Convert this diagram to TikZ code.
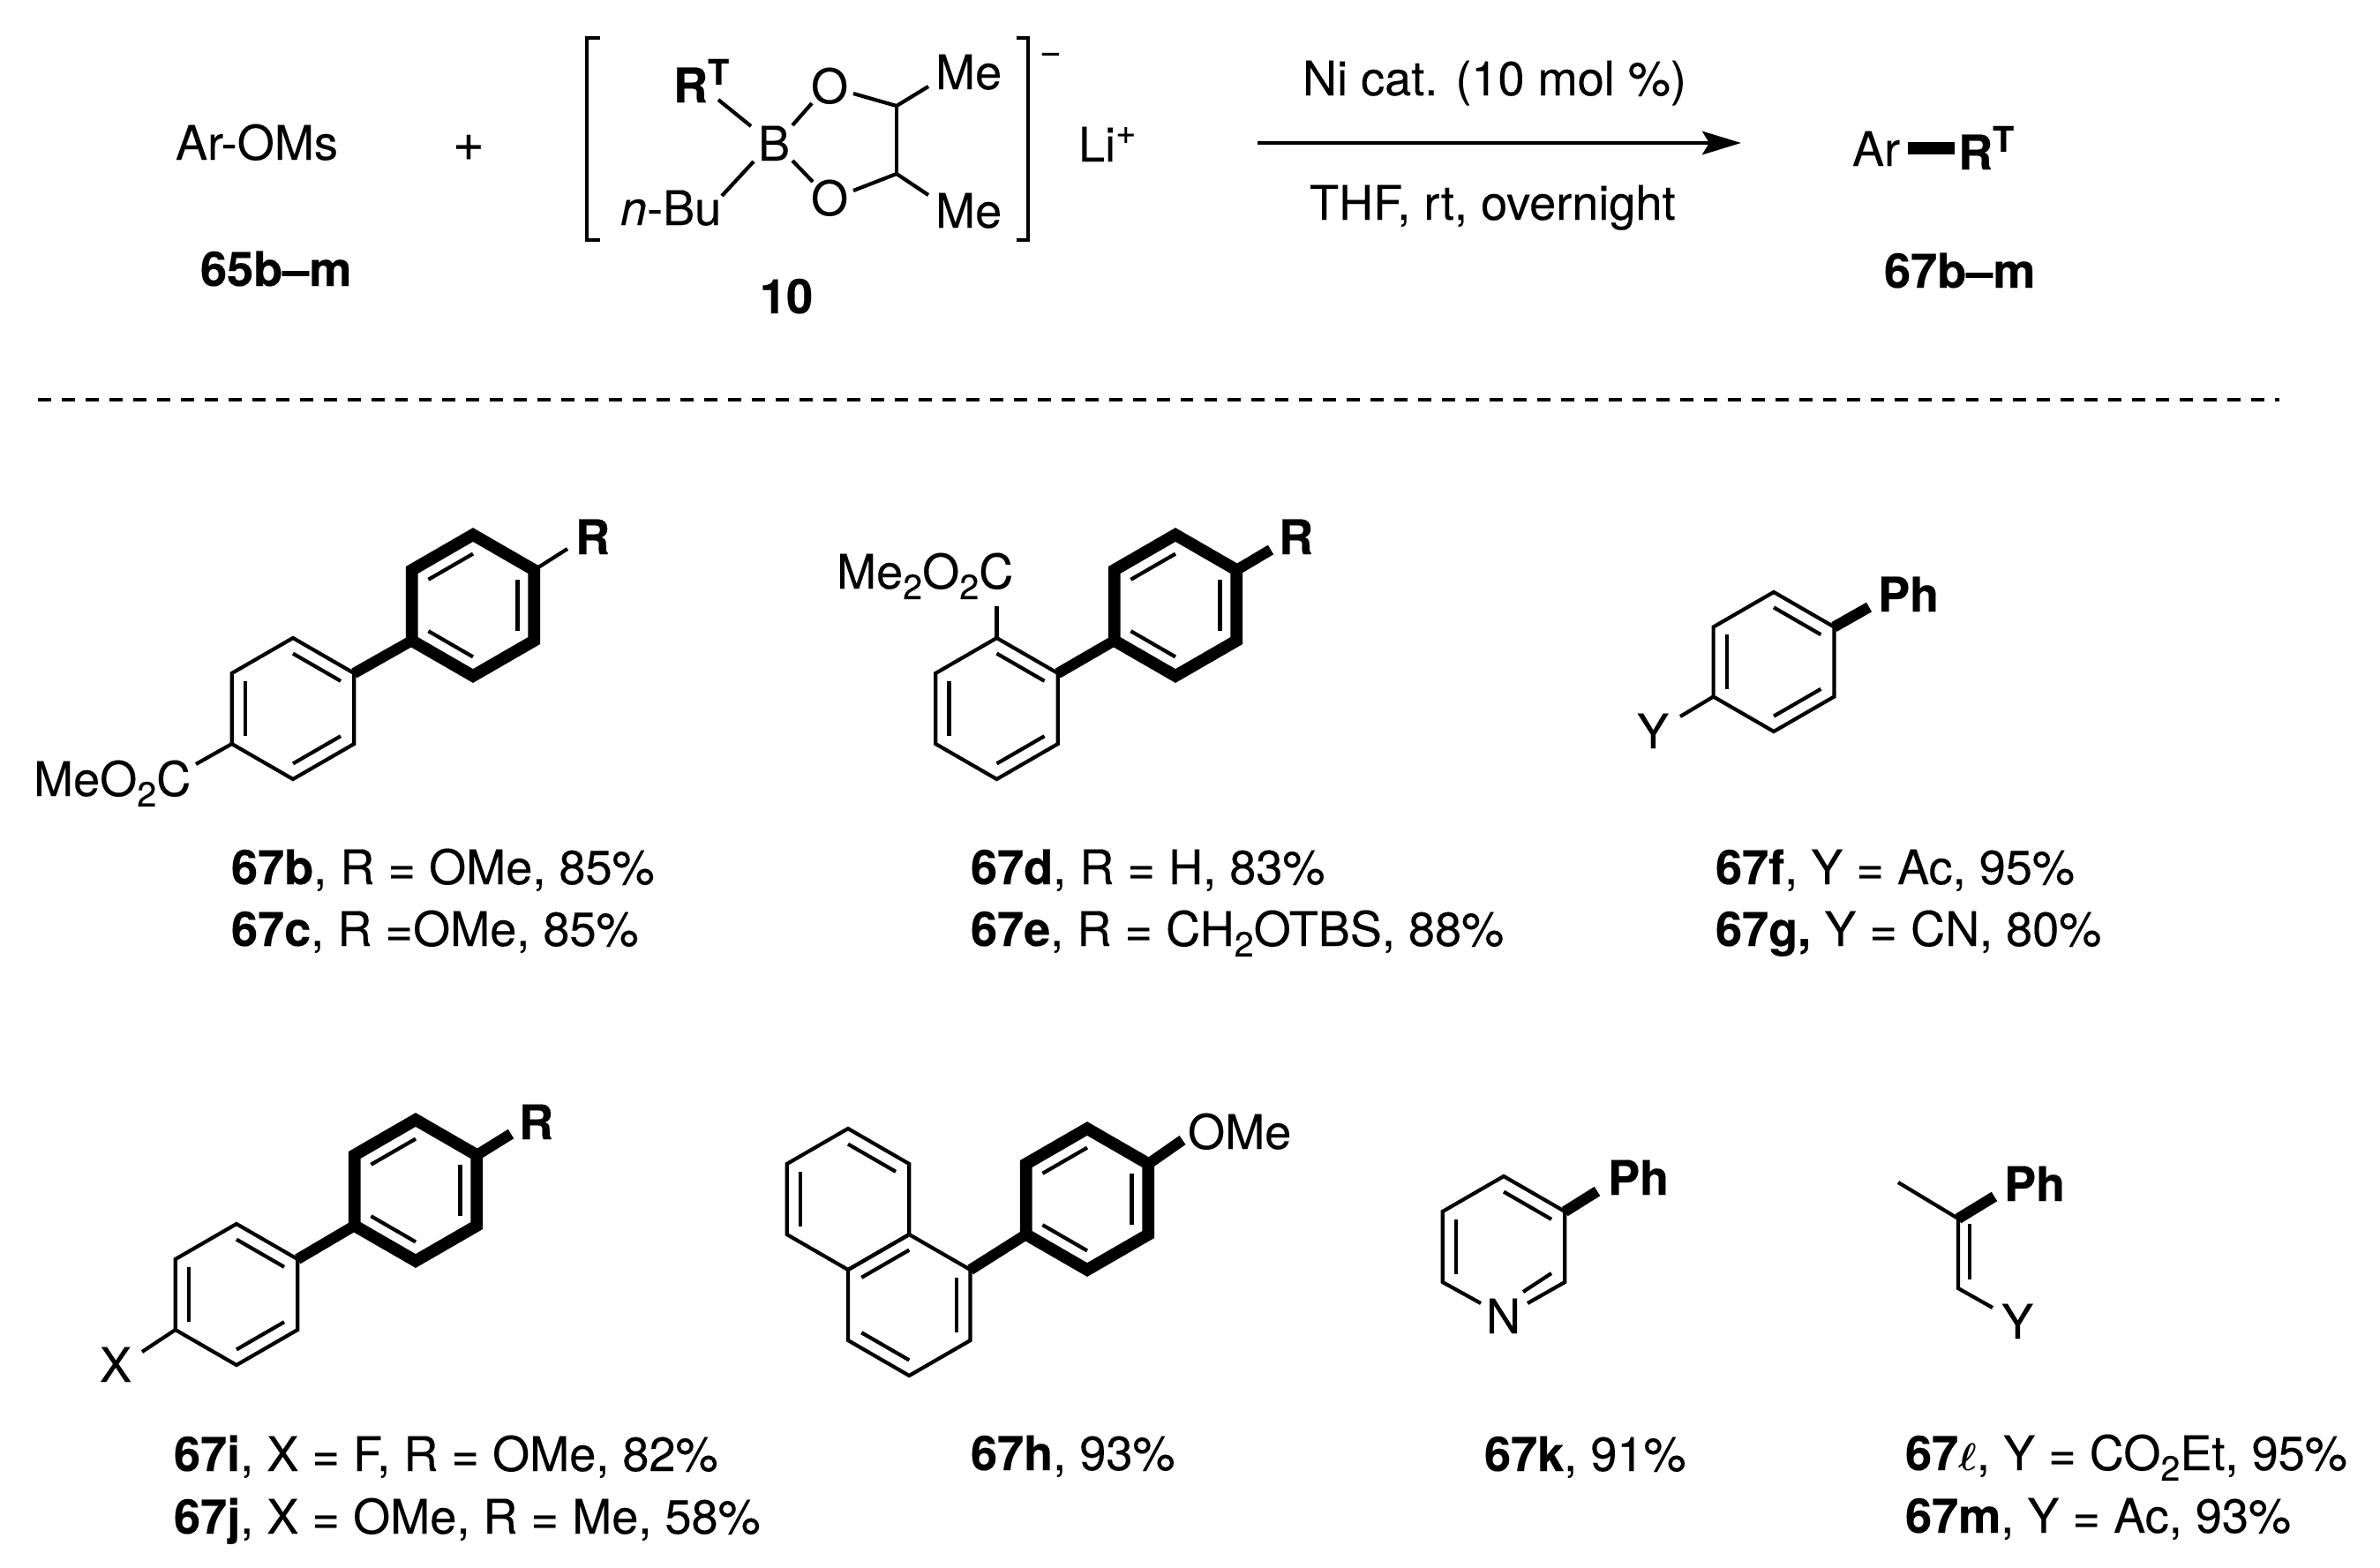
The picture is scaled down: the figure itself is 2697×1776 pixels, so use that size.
\documentclass[tikz,border=0pt]{standalone}
\usepackage{fontspec}
\setmainfont{TeX Gyre Heros}[UprightFeatures={FakeBold=0.2},BoldFeatures={FakeBold=0.3},ItalicFeatures={FakeBold=0.2}]
\usetikzlibrary{calc,arrows.meta}
\newcommand\hexring[4]{%
  \coordinate (#1) at (#2,#3);
  \coordinate (#11) at (#2,#3-#4);
  \coordinate (#12) at (#2+0.866*#4,#3-0.5*#4);
  \coordinate (#13) at (#2+0.866*#4,#3+0.5*#4);
  \coordinate (#14) at (#2,#3+#4);
  \coordinate (#15) at (#2-0.866*#4,#3+0.5*#4);
  \coordinate (#16) at (#2-0.866*#4,#3-0.5*#4);}
\newcommand\hexdraw[2]{\draw[#1] (#21) -- (#22) -- (#23) -- (#24) -- (#25) -- (#26) -- cycle;}
\newcommand\dbl[4]{\draw[inbond] ($(#1#2)!#4!(#1)$) -- ($(#1#3)!#4!(#1)$);}
\newcommand\subt[1]{\raisebox{-6.8pt}{\fontsize{22.5}{24}\selectfont #1}}
\newcommand\supt[1]{\raisebox{11.5pt}{\fontsize{22.5}{24}\selectfont #1}}
\tikzset{
  bond/.style={line width=2.4pt,line join=miter,line cap=butt,black},
  inbond/.style={line width=2.4pt,line cap=butt,black},
  bold/.style={line width=7pt,line join=miter,line cap=butt,black},
  boldring/.style={line width=7.8pt,line join=miter,line cap=butt,black},
  lbl/.style={anchor=base west,inner sep=0pt,outer sep=0pt,text=black,font=\fontsize{30.8}{36}\selectfont},
}
\begin{document}
\begin{tikzpicture}[x=0.02cm,y=-0.02cm]
\useasboundingbox (0,0) rectangle (2697,1776);
% top row
\node[lbl] (arom) at (199,181) {Ar-OMs};
\node[lbl,font=\fontsize{35}{38}\selectfont] (plus) at (513,182) {+};
\node[lbl] (rt) at (763,116) {\textbf{R\supt{T}}};
\node[lbl] (boron) at (859,182) {B};
\node[lbl] (ou) at (919,117) {O};
\node[lbl] (ol) at (919,244) {O};
\node[lbl] (meu) at (1060,101) {Me};
\node[lbl] (mel) at (1060,258) {Me};
\node[lbl] (nbu) at (703,255) {\textit{n}-Bu};
\node[lbl] (minus) at (1178,72) {\fontsize{24}{26}\selectfont −};
\node[lbl] (li) at (1222,183) {Li\supt{+}};
\node[lbl] (l65) at (227,324) {\textbf{65b–m}};
\node[lbl] (l10) at (861,355) {\textbf{10}};
\draw[bond] (680,43) -- (665,43) -- (665,272) -- (680,272);
\draw[bond] (1152,43) -- (1165,43) -- (1165,272) -- (1152,272);
\coordinate (b1) at (814,113); \coordinate (b2) at (851,143);
\coordinate (b3) at (898,142); \coordinate (b4) at (920,117);
\coordinate (b5) at (967,106); \coordinate (cu) at (1016,120);
\coordinate (b6) at (1052,98); \coordinate (cl) at (1016,197);
\coordinate (b7) at (967,216); \coordinate (b8) at (1052,221);
\coordinate (b9) at (898,182); \coordinate (b10) at (921,206);
\coordinate (b11) at (854,183); \coordinate (b12) at (818,222);
\draw[bond] (b1) -- (b2);
\draw[bond] (b3) -- (b4);
\draw[bond] (b5) -- (cu) -- (b6);
\draw[bond] (cu) -- (cl);
\draw[bond] (b7) -- (cl) -- (b8);
\draw[bond] (b9) -- (b10);
\draw[bond] (b11) -- (b12);
% arrow
\node[lbl] (cond1) at (1476,108) {Ni cat. (10 mol \%)};
\node[lbl] (cond2) at (1484,249) {THF, rt, overnight};
\coordinate (arr1) at (1425,162); \coordinate (arr2) at (1973,162);
\draw[line width=2.8pt,-{Stealth[length=25pt,width=15pt,inset=4.5pt]}] (arr1) -- (arr2);
% product
\node[lbl] (par) at (2099,188) {Ar};
\node[lbl] (prt) at (2219,192) {\textbf{R\supt{T}}};
\coordinate (p1) at (2162,168); \coordinate (p2) at (2215,168);
\draw[line width=7.5pt] (p1) -- (p2);
\node[lbl] (l67) at (2135,326) {\textbf{67b–m}};
% dashed
\coordinate (d1) at (43,453); \coordinate (d2) at (2583,453);
\draw[line width=2.7pt,dash pattern=on 8.5pt off 6.85pt] (d1) -- (d2);
% 67b/c
\hexring{A}{332}{803}{80}
\hexring{B}{536}{686}{80}
\hexdraw{bond}{A}
\dbl{A}{1}{2}{0.22} \dbl{A}{3}{4}{0.22} \dbl{A}{5}{6}{0.22}
\hexdraw{boldring}{B}
\dbl{B}{6}{1}{0.27} \dbl{B}{2}{3}{0.27} \dbl{B}{4}{5}{0.27}
\draw[bold] (A2) -- (B5);
\node[lbl] (ar) at (652,628) {\textbf{R}};
\node[lbl] (ameo) at (38,902) {MeO\subt{2}C};
\coordinate (ea1) at (643,622); \coordinate (ea2) at (222,866);
\draw[bond] (B2) -- (ea1);
\draw[bond] (A5) -- (ea2);
\node[lbl] (t1) at (262,1002) {\textbf{67b}, R = OMe, 85\%};
\node[lbl] (t2) at (262,1072) {\textbf{67c}, R =OMe, 85\%};
% 67d/e
\hexring{C}{1129.5}{803}{80}
\hexring{D}{1332}{686}{80}
\hexdraw{bond}{C}
\dbl{C}{1}{2}{0.22} \dbl{C}{3}{4}{0.22} \dbl{C}{5}{6}{0.22}
\hexdraw{boldring}{D}
\dbl{D}{6}{1}{0.27} \dbl{D}{2}{3}{0.27} \dbl{D}{4}{5}{0.27}
\draw[bold] (C2) -- (D5);
\node[lbl] (dr) at (1449,628) {\textbf{R}};
\node[lbl] (dme) at (948,667) {Me\subt{2}O\subt{2}C};
\coordinate (ed1) at (1440,623); \coordinate (ed2) at (1129.5,687);
\draw[bold] (D2) -- (ed1);
\draw[bond] (C1) -- (ed2);
\node[lbl] (t3) at (1100,1002) {\textbf{67d}, R = H, 83\%};
\node[lbl] (t4) at (1100,1072) {\textbf{67e}, R = CH\subt{2}OTBS, 88\%};
% 67f/g
\hexring{E}{2010}{750}{79}
\hexdraw{bond}{E}
\dbl{E}{1}{2}{0.22} \dbl{E}{3}{4}{0.22} \dbl{E}{5}{6}{0.22}
\node[lbl] (eph) at (2128,693) {\textbf{Ph}};
\node[lbl] (ey) at (1855,848) {Y};
\coordinate (ee1) at (2118,688); \coordinate (ee2) at (1904,812);
\draw[bold] (E2) -- (ee1);
\draw[bond] (E5) -- (ee2);
\node[lbl] (t5) at (1944,1002) {\textbf{67f}, Y = Ac, 95\%};
\node[lbl] (t6) at (1944,1072) {\textbf{67g,} Y = CN, 80\%};
% 67i/j
\hexring{F}{268}{1467}{80}
\hexring{G}{471}{1349}{80}
\hexdraw{bond}{F}
\dbl{F}{1}{2}{0.22} \dbl{F}{3}{4}{0.22} \dbl{F}{5}{6}{0.22}
\hexdraw{boldring}{G}
\dbl{G}{6}{1}{0.27} \dbl{G}{2}{3}{0.27} \dbl{G}{4}{5}{0.27}
\draw[bold] (F2) -- (G5);
\node[lbl] (gr) at (588,1291) {\textbf{R}};
\node[lbl] (fx) at (113,1566) {X};
\coordinate (eg1) at (579,1285); \coordinate (ef1) at (161,1532);
\draw[bold] (G2) -- (eg1);
\draw[bond] (F5) -- (ef1);
\node[lbl] (t7) at (197,1667) {\textbf{67i}, X = F, R = OMe, 82\%};
\node[lbl] (t8) at (197,1738) {\textbf{67j}, X = OMe, R = Me, 58\%};
% 67h
\hexring{H}{961}{1359}{80}
\hexring{I}{1030.3}{1479}{80}
\hexring{J}{1232}{1359}{80}
\hexdraw{bond}{H}
\hexdraw{bond}{I}
\dbl{H}{1}{2}{0.22} \dbl{H}{5}{6}{0.22}
\dbl{I}{6}{1}{0.22} \dbl{I}{2}{3}{0.22} \dbl{I}{4}{5}{0.22}
\hexdraw{boldring}{J}
\dbl{J}{6}{1}{0.27} \dbl{J}{2}{3}{0.27} \dbl{J}{4}{5}{0.27}
\draw[bold] (I2) -- (J5);
\node[lbl] (home) at (1346,1302) {OMe};
\coordinate (ej1) at (1340,1292);
\draw[bold] (J2) -- (ej1);
\node[lbl] (t9) at (1100,1666) {\textbf{67h}, 93\%};
% 67k
\hexring{K}{1704}{1413}{80}
\node[lbl] (kn) at (1684,1511) {N};
\coordinate (ek1) at (1678,1477); \coordinate (ek2) at (1731,1477);
\coordinate (ek3) at (1810,1350);
\coordinate (ek4) at (1758,1443); \coordinate (ek5) at (1726,1464);
\draw[bond] (ek1) -- (K5) -- (K6) -- (K1) -- (K2) -- (K3) -- (ek2);
\dbl{K}{1}{2}{0.22} \dbl{K}{5}{6}{0.22}
\draw[inbond] (ek4) -- (ek5);
\draw[bold] (K2) -- (ek3);
\node[lbl] (kph) at (1822,1354) {\textbf{Ph}};
\node[lbl] (t10) at (1682,1667) {\textbf{67k}, 91\%};
% 67l/m
\coordinate (c1) at (2219,1381); \coordinate (c2) at (2219,1460);
\coordinate (cme) at (2151,1340); \coordinate (cph) at (2260,1356);
\coordinate (cy) at (2258,1482);
\coordinate (ci1) at (2232,1387); \coordinate (ci2) at (2232,1450);
\draw[bond] (cme) -- (c1) -- (c2) -- (cy);
\draw[inbond] (ci1) -- (ci2);
\draw[bold] (c1) -- (cph);
\node[lbl] (lph) at (2271,1361) {\textbf{Ph}};
\node[lbl] (ly) at (2268,1517) {Y};
\node[lbl] (t11) at (2159,1666) {\textbf{67}\mbox{\boldmath$\ell$}, Y = CO\subt{2}Et, 95\%};
\node[lbl] (t12) at (2159,1737) {\textbf{67m}, Y = Ac, 93\%};
\end{tikzpicture}
\end{document}
